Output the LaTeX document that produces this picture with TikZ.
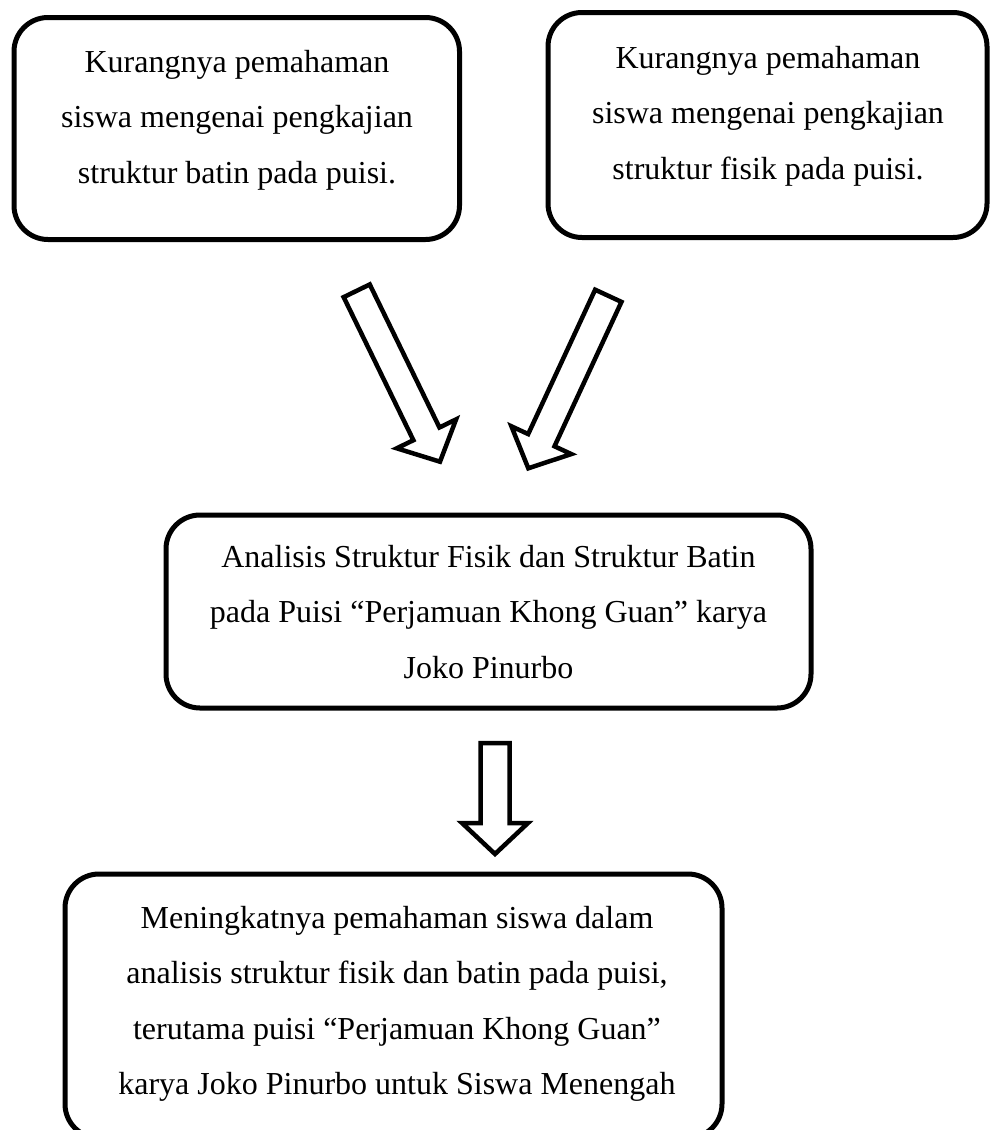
\documentclass[tikz,border=0pt]{standalone}
\usepackage{fontspec}
\setmainfont{Liberation Serif}
\usetikzlibrary{calc}
\tikzset{
  boxnode/.style={draw, line width=5pt, rounded corners=34pt, inner sep=0pt},
  txtnode/.style={align=center, inner sep=0pt, anchor=north, font=\fontsize{32}{55.5}\selectfont},
  barrow/.style={draw, line width=4.5pt, line join=miter, fill=white},
}
% #1 = tail coordinate, #2 = tip coordinate
\newcommand\blockarrow[2]{%
  \coordinate (ba-m) at ($(#2)!31pt!(#1)$);
  \draw[barrow] ($(#1)!14.5pt!90:(#2)$) -- ($(ba-m)!14.5pt!90:(#2)$)
    -- ($(ba-m)!33pt!90:(#2)$) -- (#2) -- ($(ba-m)!33pt!-90:(#2)$)
    -- ($(ba-m)!14.5pt!-90:(#2)$) -- ($(#1)!14.5pt!-90:(#2)$) -- cycle;
}
\begin{document}
\begin{tikzpicture}[x=1pt,y=-1pt]
\useasboundingbox (0,0) rectangle (991,1130);
\clip (0,0) rectangle (991,1130);

\node[boxnode, minimum width=445.5pt, minimum height=222pt] (b1) at (236.75,128.5) {};
\node[txtnode] (t1) at (237,50) {Kurangnya pemahaman\\siswa mengenai pengkajian\\struktur batin pada puisi.};

\node[boxnode, minimum width=439pt, minimum height=225pt] (b2) at (767.5,125) {};
\node[txtnode] (t2) at (768,46) {Kurangnya pemahaman\\siswa mengenai pengkajian\\struktur fisik pada puisi.};

\node[boxnode, minimum width=645pt, minimum height=193pt] (b3) at (488.5,611.5) {};
\node[txtnode] (t3) at (488.5,545) {Analisis Struktur Fisik dan Struktur Batin\\pada Puisi “Perjamuan Khong Guan” karya\\Joko Pinurbo};

\node[boxnode, minimum width=657pt, minimum height=264pt] (b4) at (393.5,1006) {};
\node[txtnode] (t4) at (397,906) {Meningkatnya pemahaman siswa dalam\\analisis struktur fisik dan batin pada puisi,\\terutama puisi “Perjamuan Khong Guan”\\karya Joko Pinurbo untuk Siswa Menengah};

\coordinate (a1tail) at (356.7,290.8);
\coordinate (a1tip) at (440,461.7);
\coordinate (a2tail) at (608.3,295.8);
\coordinate (a2tip) at (528.3,468.3);
\coordinate (a3tail) at (495,743);
\coordinate (a3tip) at (495,854);

\blockarrow{a1tail}{a1tip}
\blockarrow{a2tail}{a2tip}
\blockarrow{a3tail}{a3tip}
\end{tikzpicture}
\end{document}
